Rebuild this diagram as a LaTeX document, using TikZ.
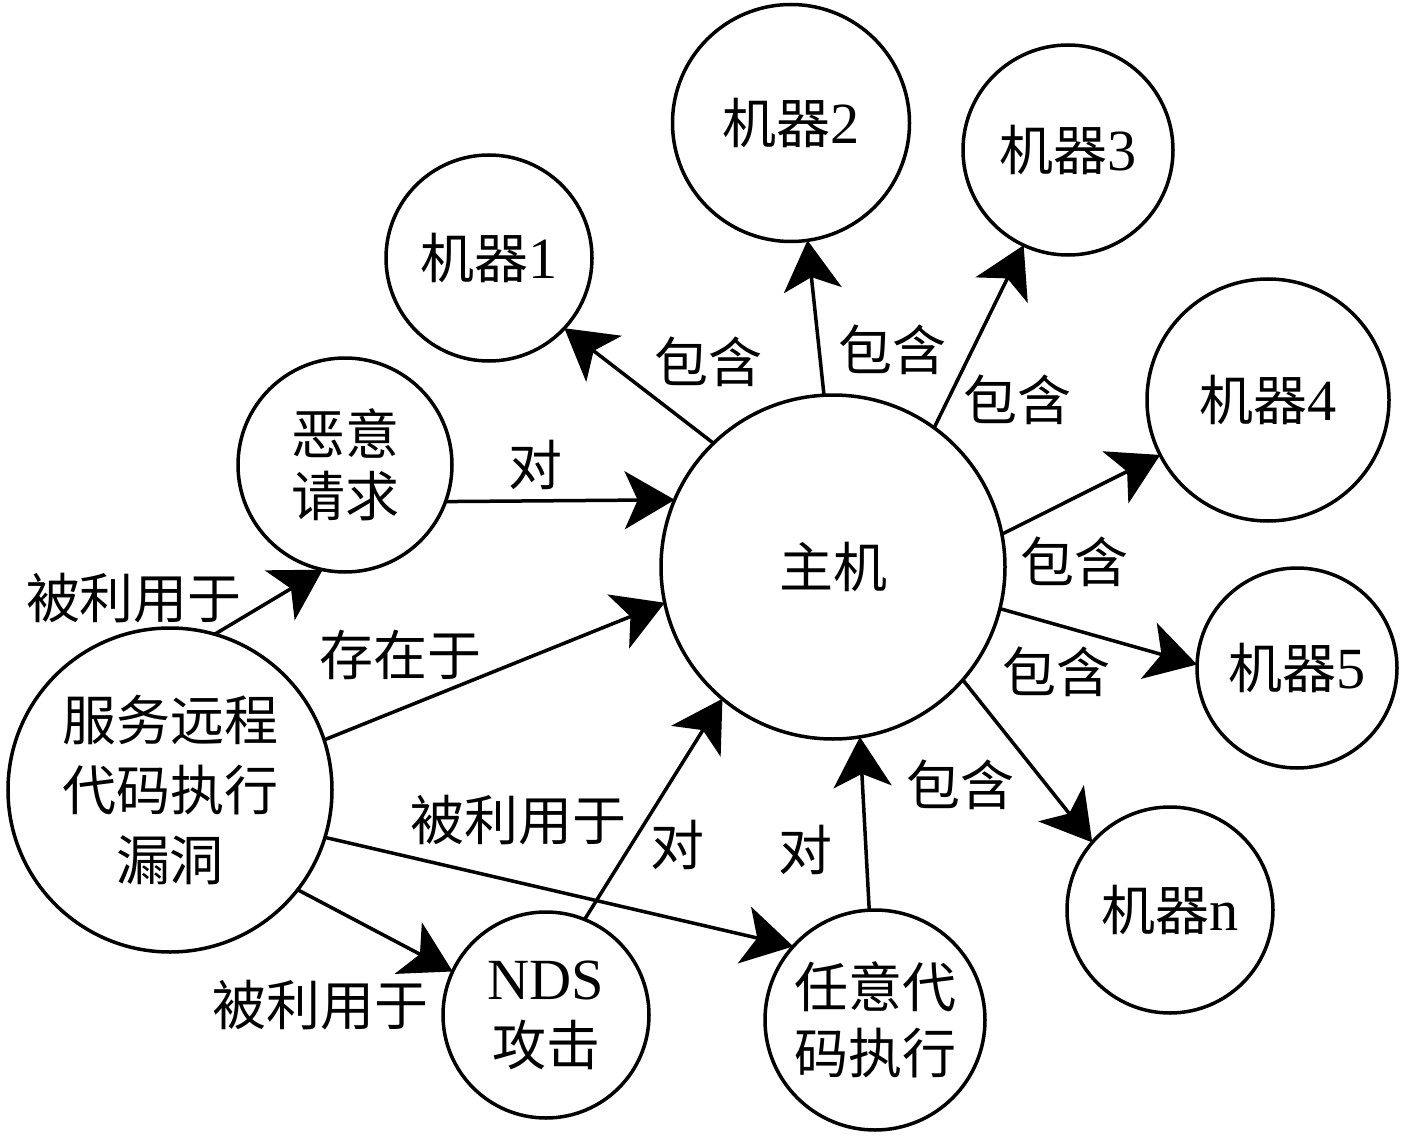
\documentclass[tikz,border=0pt]{standalone}
\usepackage{fontspec}
\setmainfont{Liberation Serif}[Scale=1.08]
\newfontfamily\cjk{Noto Sans CJK SC}
\usetikzlibrary{arrows.meta}
\tikzset{
  circ/.style={circle, draw, line width=3.5pt, inner sep=0pt, outer sep=0pt, align=center,
    font=\fontsize{54}{66}\selectfont},
  arr/.style={line width=3.5pt, -{Stealth[length=50pt,width=58pt,inset=13pt]}},
  lbl/.style={font=\fontsize{54}{66}\selectfont\cjk, inner sep=0pt}
}
\begin{document}
\begin{tikzpicture}[x=1pt,y=-1pt]
\useasboundingbox (0,0) rectangle (1417,1142);
% nodes
\node[circ, minimum size=344pt] (zhu) at (833,567) {\cjk 主机};
\node[circ, minimum size=206pt] (m1) at (489,258) {{\cjk 机器}1};
\node[circ, minimum size=237pt] (m2) at (791,123) {{\cjk 机器}2};
\node[circ, minimum size=210pt] (m3) at (1068,150) {{\cjk 机器}3};
\node[circ, minimum size=242pt] (m4) at (1268,400) {{\cjk 机器}4};
\node[circ, minimum size=200pt] (m5) at (1297,668) {{\cjk 机器}5};
\node[circ, minimum size=206pt] (mn) at (1170,910) {{\cjk 机器}n};
\node[circ, minimum size=214pt, font=\fontsize{54}{62}\selectfont\cjk] (ey) at (345,465) {恶意\\请求};
\node[circ, minimum size=324pt, font=\fontsize{54}{70}\selectfont\cjk] (fw) at (170,790) {服务远程\\代码执行\\漏洞};
\node[circ, minimum size=206pt, font=\fontsize{54}{66}\selectfont] (nds) at (546,1015) {NDS\\{\cjk 攻击}};
\node[circ, minimum size=220pt, font=\fontsize{54}{66}\selectfont\cjk] (ry) at (875,1020) {任意代\\码执行};
% connectors
\draw[arr] (zhu.134) -- (m1.-43.5);
\draw[arr] (zhu.93.3) -- (m2.-82.3);
\draw[arr] (zhu.54.2) -- (m3.-115);
\draw[arr] (zhu.11.3) -- (m4.-153.4);
\draw[arr] (zhu.-14.8) -- (m5.178);
\draw[arr] (zhu.-41.5) -- (mn.139.6);
\draw[arr] (ey.-20.9) -- (zhu.157.6);
\draw[arr] (fw.74) -- (ey.-102.6);
\draw[arr] (fw.18.2) -- (zhu.-168);
\draw[arr] (fw.-17.8) -- (ry.138);
\draw[arr] (nds.68.2) -- (zhu.-130.8);
\draw[arr] (ry.93) -- (zhu.-81.8);
\draw[arr] (fw.-38) -- (nds.155.6);
% labels
\node[lbl] (l1) at (708,362) {包含};
\node[lbl] (l2) at (892,350) {包含};
\node[lbl] (l3) at (1017,400) {包含};
\node[lbl] (l4) at (1074,562) {包含};
\node[lbl] (l5) at (1056,672) {包含};
\node[lbl] (l6) at (960,785) {包含};
\node[lbl] (l7) at (535,465) {对};
\node[lbl] (l8) at (134,598) {被利用于};
\node[lbl] (l9) at (400,655) {存在于};
\node[lbl] (l10) at (518,820) {被利用于};
\node[lbl] (l11) at (677,845) {对};
\node[lbl] (l12) at (805,850) {对};
\node[lbl] (l13) at (320,1005) {被利用于};
\end{tikzpicture}
\end{document}
